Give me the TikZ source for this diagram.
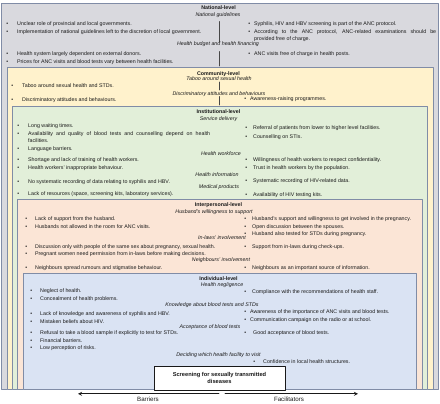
\documentclass[tikz,border=0pt]{standalone}
\usepackage{fontspec}
\setmainfont{Liberation Sans}
\newcommand{\fs}{\fontsize{5.3}{6.7}\selectfont}
\newcommand{\itemdot}[1]{\llap{\textbullet\hspace{#1pt}}}
\definecolor{natfill}{RGB}{217,217,222}
\definecolor{comfill}{RGB}{255,242,204}
\definecolor{insfill}{RGB}{226,239,217}
\definecolor{intfill}{RGB}{251,229,214}
\definecolor{indfill}{RGB}{218,227,243}
\definecolor{rim}{RGB}{128,140,166}
\definecolor{ink}{RGB}{25,25,25}
\begin{document}
\begin{tikzpicture}[x=1pt, y=-1pt, line join=round, line cap=round, >=stealth,
	lvl/.style={draw=rim, line width=0.8pt},
	sep/.style={draw=ink!80, line width=0.6pt},
	ttl/.style={font=\fs\bfseries, inner sep=0pt, text=ink, text height=3.8pt, text depth=1.1pt},
	sub/.style={font=\fs\itshape, inner sep=0pt, text=ink, text height=3.8pt, text depth=1.1pt},
	bul/.style={anchor=west, font=\fs, inner sep=0pt, text=ink, text height=3.8pt, text depth=1.1pt},
	bulm/.style={anchor=north west, font=\fs, inner sep=0pt, text=ink, align=justify, text width=#1}]
	\useasboundingbox (0,0) rectangle (440,404);
	%% cac khung long nhau
	\foreach \c/\a/\b/\r in {natfill/1.7/3.5/438.3, comfill/7/67.5/433, insfill/12.3/106.5/427.7, intfill/17.7/199.3/422, indfill/23.3/273.3/416.5}
	\draw[lvl, fill=\c] (\a,\b) rectangle (\r,389.5);
	%% duong chia doi
	\foreach \a/\b in {21.5/42, 51.5/66, 82/90, 96.5/105}
	\draw[sep] (219,\a) -- (219,\b);
	
	%% National-level
	\node[ttl] (nat) at (218.5,8.3) {National-level};
	\node[sub] (natg) at (218,15) {National guidelines};
	\node[sub] (nath) at (218,44.5) {Health budget and health financing};
	\foreach \x/\g/\y/\s [count=\i] in {17/9/24/{Unclear role of provincial and local governments.},
		17/9/32.3/{Implementation of national guidelines left to the discretion of local government.},
		17/9/54.3/{Health system largely dependent on external donors.},
		17/9/62.3/{Prices for ANC visits and blood tests vary between health facilities.},
		254/4/24/{Syphilis, HIV and HBV screening is part of the ANC protocol.},
		254/4/54.3/{ANC visits free of charge in health posts.}}
	\node[bul] (nat\i) at (\x,\y) {\itemdot{\g}\s};
	\node[bulm=182pt] (natm) at (254,29.8) {\itemdot{4}According to the ANC protocol, ANC-related examinations should be\linebreak provided free of charge.};
	
	%% Community-level
	\node[ttl] (com) at (218.5,74) {Community-level};
	\node[sub] (comt) at (219,79.5) {Taboo around sexual health};
	\node[sub] (comd) at (219,94.3) {Discriminatory attitudes and behaviours};
	\foreach \x/\g/\y/\s [count=\i] in {22/9/85.7/{Taboo around sexual health and STDs.},
		22/9/99.7/{Discriminatory attitudes and behaviours.},
		250/4/99.5/{Awareness-raising programmes.}}
	\node[bul] (com\i) at (\x,\y) {\itemdot{\g}\s};
	
	%% Institutional-level
	\node[ttl] (ins) at (218.5,112.3) {Institutional-level};
	\node[sub] (inss) at (218.5,119) {Service delivery};
	\node[sub] (insw) at (221,154.5) {Health workforce};
	\node[sub] (insi) at (217,175.5) {Health information};
	\node[sub] (insp) at (219,187) {Medical products};
	\foreach \x/\g/\y/\s [count=\i] in {28/9/125.7/{Long waiting times.},
		28/9/149/{Language barriers.},
		28/9/160/{Shortage and lack of training of health workers.},
		28/9/168.3/{Health workers' inappropriate behaviour.},
		28/9/181.7/{No systematic recording of data relating to syphilis and HBV.},
		28/9/194/{Lack of resources (space, screening kits, laboratory services).},
		253/6/128.3/{Referral of patients from lower to higher level facilities.},
		253/6/136.7/{Counselling on STIs.},
		253/6/160/{Willingness of health workers to respect confidentiality.},
		253/6/168.3/{Trust in health workers by the population.},
		253/6/181/{Systematic recording of HIV-related data.},
		253/6/195/{Availability of HIV testing kits.}}
	\node[bul] (ins\i) at (\x,\y) {\itemdot{\g}\s};
	\node[bulm=182pt] (insm) at (28,131.5) {\itemdot{9}Availability and quality of blood tests and counselling depend on health\linebreak facilities.};
	
	%% Interpersonal-level
	\node[ttl] (int) at (218.5,205) {Interpersonal-level};
	\node[sub] (inth) at (214,212) {Husband's willingness to support};
	\node[sub] (intl) at (222,238.5) {In-laws' involvement};
	\node[sub] (intn) at (221,260.5) {Neighbours' involvement};
	\foreach \x/\g/\y/\s [count=\i] in {35/8/219/{Lack of support from the husband.},
		35/8/227.3/{Husbands not allowed in the room for ANC visits.},
		35/8/246.7/{Discussion only with people of the same sex about pregnancy, sexual health.},
		35/8/254.3/{Pregnant women need permission from in-laws before making decisions.},
		35/8/267.7/{Neighbours spread rumours and stigmatise behaviour.},
		252/6/219/{Husband's support and willingness to get involved in the pregnancy.},
		252/6/227.3/{Open discussion between the spouses.},
		252/6/234/{Husband also tested for STDs during pregnancy.},
		252/6/246.7/{Support from in-laws during check-ups.},
		252/6/267.7/{Neighbours as an important source of information.}}
	\node[bul] (int\i) at (\x,\y) {\itemdot{\g}\s};
	
	%% Individual-level
	\node[ttl] (ind) at (218.5,279) {Individual-level};
	\node[sub] (indh) at (222,285) {Health negligence};
	\node[sub] (indk) at (212,305.5) {Knowledge about blood tests and STDs};
	\node[sub] (inda) at (210,327) {Acceptance of blood tests};
	\node[sub] (indd) at (218.5,355) {Deciding which health facility to visit};
	\foreach \x/\g/\y/\s [count=\i] in {40/8/291/{Neglect of health.},
		40/8/299.3/{Concealment of health problems.},
		40/8/314/{Lack of knowledge and awareness of syphilis and HBV.},
		40/8/321.7/{Mistaken beliefs about HIV.},
		40/8/333.3/{Refusal to take a blood sample if explicitly to test for STDs.},
		40/8/341/{Financial barriers.},
		40/8/348.3/{Low perception of risks.},
		252/6/292.3/{Compliance with the recommendations of health staff.},
		250/4/312.3/{Awareness of the importance of ANC visits and blood tests.},
		250/4/320/{Communication campaign on the radio or at school.},
		253/7/333.3/{Good acceptance of blood tests.},
		263/8/361.7/{Confidence in local health structures.}}
	\node[bul] (ind\i) at (\x,\y) {\itemdot{\g}\s};
	
	%% Screening
	\node[draw=ink, line width=0.6pt, fill=white, anchor=north, minimum width=131pt, minimum height=23.5pt, align=center, text=ink,
	font=\fontsize{5.7}{7}\selectfont\bfseries] (scr) at (219.5,366) {Screening for sexually transmitted\\diseases};
	
	%% Barriers / Facilitators
	\path (219,393.8) coordinate (barS) (78,393.8) coordinate (barE)
	(225,393.8) coordinate (facS) (358,393.8) coordinate (facE);
	\draw[->, line width=0.8pt, ink] (barS) -- (barE);
	\draw[->, line width=0.8pt, ink] (facS) -- (facE);
	\node[font=\fontsize{6.2}{7}\selectfont, inner sep=0pt, text=ink] (bar) at (148,399) {Barriers};
	\node[font=\fontsize{6.2}{7}\selectfont, inner sep=0pt, text=ink] (fac) at (289,399) {Facilitators};
\end{tikzpicture}
\end{document}
